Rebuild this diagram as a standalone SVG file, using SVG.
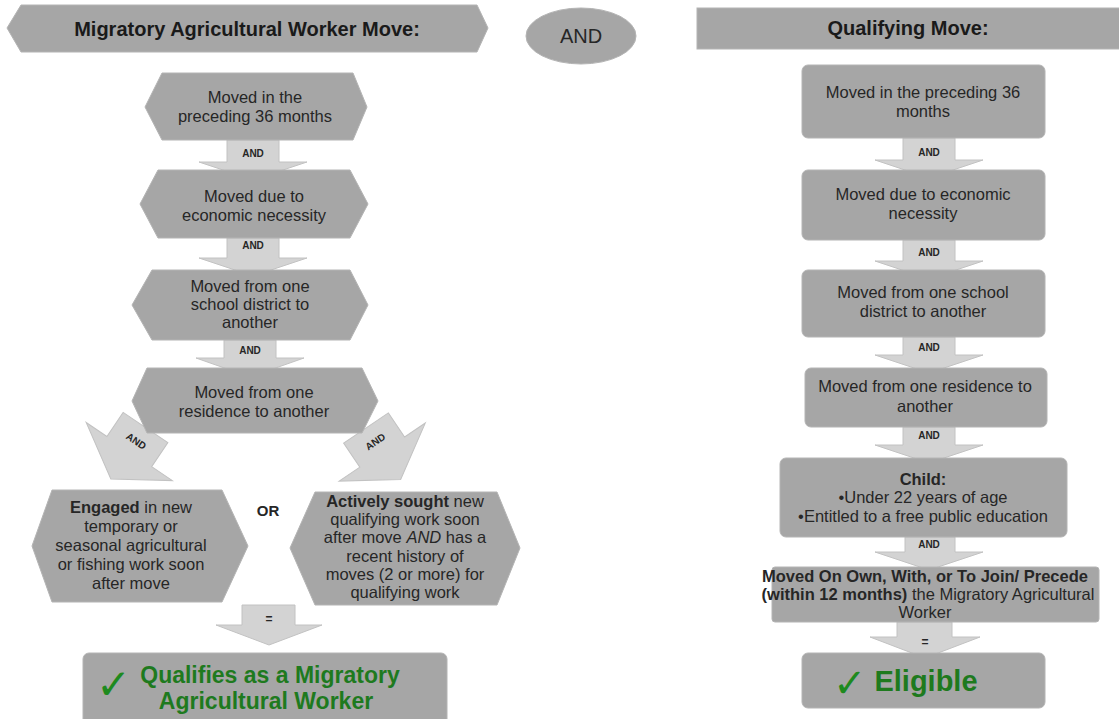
<svg xmlns="http://www.w3.org/2000/svg" width="1119" height="719" viewBox="0 0 1119 719">
<style>
  .node { fill: #a6a6a6; stroke: #b4b4b4; stroke-width: 1; }
  .arrow { fill: #d3d3d3; stroke: #c2c2c2; stroke-width: 1; }
  .t { font-family: "Liberation Sans", Arial, sans-serif; font-size: 16.5px; fill: #262626; text-anchor: middle; }
  .h { font-family: "Liberation Sans", Arial, sans-serif; font-size: 20px; font-weight: bold; fill: #1a1a1a; text-anchor: middle; }
  .lbl { font-family: "Liberation Sans", Arial, sans-serif; font-size: 10px; font-weight: bold; fill: #262626; text-anchor: middle; }
  .g { font-family: "Liberation Sans", Arial, sans-serif; font-weight: bold; fill: #1e7a1e; text-anchor: middle; }
  .chk { font-family: "DejaVu Sans", sans-serif; fill: #1e8a1e; }
  b, .b { font-weight: bold; }
</style>

<g id="connectors">
  <!-- left column vertical arrows -->
  <polygon class="arrow" points="227,140 279,140 279,162 307,162 253,180 199,162 227,162"/>
  <text class="lbl" x="253" y="157">AND</text>
  <polygon class="arrow" points="227,238 279,238 279,258 307,258 253,276 199,258 227,258"/>
  <text class="lbl" x="253" y="249">AND</text>
  <polygon class="arrow" points="224,340 276,340 276,358 304,358 250,377 196,358 224,358"/>
  <text class="lbl" x="250" y="354">AND</text>
  <!-- diagonal arrows -->
  <g transform="translate(145.5,427.5) rotate(34)">
    <polygon class="arrow" points="-27,0 27,0 27,29 52,29 0,62 -52,29 -27,29"/>
    <text class="lbl" x="0" y="20">AND</text>
  </g>
  <g transform="translate(366,428) rotate(-34)">
    <polygon class="arrow" points="-27,0 27,0 27,29 52,29 0,62 -52,29 -27,29"/>
    <text class="lbl" x="0" y="20">AND</text>
  </g>
  <polygon class="arrow" points="242,605 295,605 295,625 322,625 269,645 216,625 242,625"/>
  <text class="lbl" x="269" y="623" style="font-size:12px">=</text>

  <!-- right column arrows -->
  <polygon class="arrow" points="903,138 955,138 955,160 983,160 929,178 875,160 903,160"/>
  <text class="lbl" x="929" y="156">AND</text>
  <polygon class="arrow" points="903,240 955,240 955,261 983,261 929,279 875,261 903,261"/>
  <text class="lbl" x="929" y="256">AND</text>
  <polygon class="arrow" points="903,337 955,337 955,355 983,355 929,373 875,355 903,355"/>
  <text class="lbl" x="929" y="351">AND</text>
  <polygon class="arrow" points="903,427 955,427 955,445 983,445 929,463 875,445 903,445"/>
  <text class="lbl" x="929" y="439">AND</text>
  <polygon class="arrow" points="905,537 955,537 955,552 983,552 929,570 875,552 905,552"/>
  <text class="lbl" x="929" y="548">AND</text>
  <polygon class="arrow" points="897,622 952,622 952,637 980,637 925,658 870,637 897,637"/>
  <text class="lbl" x="925" y="646" style="font-size:12px">=</text>
</g>

<g id="header-left">
  <polygon class="node" points="7,28 21,5 477,5 488,28 477,52 21,52"/>
  <text class="h" x="247" y="36">Migratory Agricultural Worker Move:</text>
</g>

<g id="and-ellipse">
  <ellipse class="node" cx="581" cy="36" rx="55" ry="28"/>
  <text class="t" x="581" y="43" style="font-size:20px">AND</text>
</g>

<g id="header-right">
  <rect class="node" x="697" y="8" width="430" height="41"/>
  <text class="h" x="908" y="35">Qualifying Move:</text>
</g>

<!-- left column -->
<g id="l1">
  <polygon class="node" points="145,107 162,73 353,73 367,107 353,140 162,140"/>
  <text class="t" x="255" y="103">Moved in the</text>
  <text class="t" x="255" y="122">preceding 36 months</text>
</g>
<g id="l2">
  <polygon class="node" points="140,204 158,170 350,170 368,204 350,238 158,238"/>
  <text class="t" x="254" y="202">Moved due to</text>
  <text class="t" x="254" y="221">economic necessity</text>
</g>
<g id="l3">
  <polygon class="node" points="132,305 152,270 350,270 368,305 350,340 152,340"/>
  <text class="t" x="250" y="292">Moved from one</text>
  <text class="t" x="250" y="310">school district to</text>
  <text class="t" x="250" y="328">another</text>
</g>
<g id="l4">
  <polygon class="node" points="132,401 147,368 362,368 378,401 362,433 147,433"/>
  <text class="t" x="254" y="398">Moved from one</text>
  <text class="t" x="254" y="417">residence to another</text>
</g>
<g id="l5">
  <polygon class="node" points="32,546 52,490 222,490 248,546 222,602 52,602"/>
  <text class="t" x="131" y="513"><tspan class="b">Engaged</tspan> in new</text>
  <text class="t" x="131" y="532">temporary or</text>
  <text class="t" x="131" y="551">seasonal agricultural</text>
  <text class="t" x="131" y="570">or fishing work soon</text>
  <text class="t" x="131" y="589">after move</text>
</g>
<g id="or">
  <text class="t b" x="268" y="516" style="font-size:15px">OR</text>
</g>
<g id="l6">
  <polygon class="node" points="290,548 315,492 497,492 520,548 497,605 315,605"/>
  <text class="t" x="405" y="507"><tspan class="b">Actively sought</tspan> new</text>
  <text class="t" x="405" y="525">qualifying work soon</text>
  <text class="t" x="405" y="543">after move <tspan font-style="italic">AND</tspan> has a</text>
  <text class="t" x="405" y="562">recent history of</text>
  <text class="t" x="405" y="580">moves (2 or more) for</text>
  <text class="t" x="405" y="598">qualifying work</text>
</g>
<g id="l-result">
  <rect class="node" x="83" y="653" width="364" height="80" rx="6"/>
  <text class="chk" x="96" y="699" style="font-size:42px">✓</text>
  <text class="g" x="270" y="683" style="font-size:23px">Qualifies as a Migratory</text>
  <text class="g" x="266" y="709" style="font-size:23px">Agricultural Worker</text>
</g>

<!-- right column -->
<g id="r1">
  <rect class="node" x="802" y="65" width="243" height="73" rx="6"/>
  <text class="t" x="923" y="98">Moved in the preceding 36</text>
  <text class="t" x="923" y="117">months</text>
</g>
<g id="r2">
  <rect class="node" x="802" y="170" width="243" height="70" rx="6"/>
  <text class="t" x="923" y="200">Moved due to economic</text>
  <text class="t" x="923" y="219">necessity</text>
</g>
<g id="r3">
  <rect class="node" x="802" y="270" width="243" height="67" rx="6"/>
  <text class="t" x="923" y="298">Moved from one school</text>
  <text class="t" x="923" y="317">district to another</text>
</g>
<g id="r4">
  <rect class="node" x="805" y="368" width="242" height="59" rx="6"/>
  <text class="t" x="925" y="392">Moved from one residence to</text>
  <text class="t" x="925" y="412">another</text>
</g>
<g id="r5">
  <rect class="node" x="780" y="458" width="287" height="79" rx="6"/>
  <text class="t b" x="923" y="485">Child:</text>
  <text class="t" x="923" y="503">•Under 22 years of age</text>
  <text class="t" x="923" y="522">•Entitled to a free public education</text>
</g>
<g id="r6">
  <rect class="node" x="772" y="567" width="327" height="55" rx="3"/>
  <text class="t b" x="925" y="582">Moved On Own, With, or To Join/ Precede</text>
  <text class="t" x="928" y="600"><tspan class="b">(within 12 months)</tspan> the Migratory Agricultural</text>
  <text class="t" x="925" y="618">Worker</text>
</g>
<g id="r-result">
  <rect class="node" x="802" y="653" width="243" height="55" rx="6"/>
  <text class="chk" x="833" y="697" style="font-size:40px">✓</text>
  <text class="g" x="926" y="691" style="font-size:29px">Eligible</text>
</g>
</svg>
